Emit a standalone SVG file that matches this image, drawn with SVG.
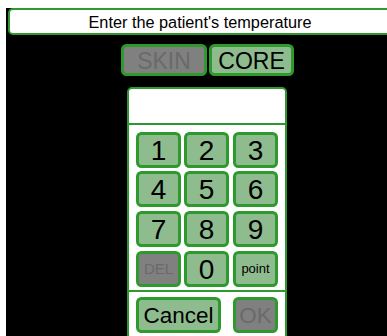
<svg xmlns="http://www.w3.org/2000/svg" width="387" height="336" viewBox="0 0 387 336">
<style>
.bg{fill:#000}
.bar{fill:#fff;stroke:#2e9a2e;stroke-width:2}
.key{fill:#8fbc8f;stroke:#2e9a2e;stroke-width:3}
.off{fill:#808080;stroke:#2e9a2e;stroke-width:3}
.panel{fill:#fff;stroke:#2e9a2e;stroke-width:2}
.t{font-family:"Liberation Sans",Arial,sans-serif;text-anchor:middle;fill:#000}
.d{font-size:28px}
.g{fill:#6a6a6a}
</style>
<rect x="0" y="0" width="387" height="336" fill="#fff"/>
<rect class="bg" x="6" y="8" width="381" height="328"/>
<g id="title">
<rect class="bar" x="9" y="9" width="390" height="25" rx="4"/>
<text class="t" x="200" y="27.5" font-size="16.3">Enter the patient's temperature</text>
</g>
<g id="skin">
<rect class="off" x="122.5" y="45.5" width="83" height="29" rx="4"/>
<text class="t g" x="164" y="69" font-size="23">SKIN</text>
</g>
<g id="core">
<rect class="key" x="210.5" y="45.5" width="82" height="29" rx="4"/>
<text class="t" x="251.5" y="69" font-size="23">CORE</text>
</g>
<g id="panel">
<rect class="panel" x="128" y="88" width="158" height="260" rx="4"/>
<line x1="128" y1="124" x2="286" y2="124" stroke="#2e9a2e" stroke-width="2"/>
<line x1="128" y1="291" x2="286" y2="291" stroke="#2e9a2e" stroke-width="2"/>
</g>
<g id="key1"><rect class="key" x="137.5" y="133.5" width="42" height="33" rx="4"/><text class="t d" x="158.5" y="160">1</text></g>
<g id="key2"><rect class="key" x="185.5" y="133.5" width="42" height="33" rx="4"/><text class="t d" x="206.5" y="160">2</text></g>
<g id="key3"><rect class="key" x="234.5" y="133.5" width="42" height="33" rx="4"/><text class="t d" x="255.5" y="160">3</text></g>
<g id="key4"><rect class="key" x="137.5" y="172.5" width="42" height="33" rx="4"/><text class="t d" x="158.5" y="199">4</text></g>
<g id="key5"><rect class="key" x="185.5" y="172.5" width="42" height="33" rx="4"/><text class="t d" x="206.5" y="199">5</text></g>
<g id="key6"><rect class="key" x="234.5" y="172.5" width="42" height="33" rx="4"/><text class="t d" x="255.5" y="199">6</text></g>
<g id="key7"><rect class="key" x="137.5" y="212.5" width="42" height="33" rx="4"/><text class="t d" x="158.5" y="239">7</text></g>
<g id="key8"><rect class="key" x="185.5" y="212.5" width="42" height="33" rx="4"/><text class="t d" x="206.5" y="239">8</text></g>
<g id="key9"><rect class="key" x="234.5" y="212.5" width="42" height="33" rx="4"/><text class="t d" x="255.5" y="239">9</text></g>
<g id="del"><rect class="off" x="137.5" y="252.5" width="42" height="33" rx="4"/><text class="t g" x="158.5" y="274" font-size="15">DEL</text></g>
<g id="key0"><rect class="key" x="185.5" y="252.5" width="42" height="33" rx="4"/><text class="t d" x="206.5" y="279">0</text></g>
<g id="point"><rect class="key" x="234.5" y="252.5" width="42" height="33" rx="4"/><text class="t" x="255.5" y="273" font-size="13">point</text></g>
<g id="cancel"><rect class="key" x="137.5" y="298.5" width="82" height="33" rx="4"/><text class="t" x="178.5" y="323" font-size="22.5">Cancel</text></g>
<g id="ok"><rect class="off" x="234.5" y="298.5" width="42" height="33" rx="4"/><text class="t g" x="255.5" y="323" font-size="22.5">OK</text></g>
</svg>
